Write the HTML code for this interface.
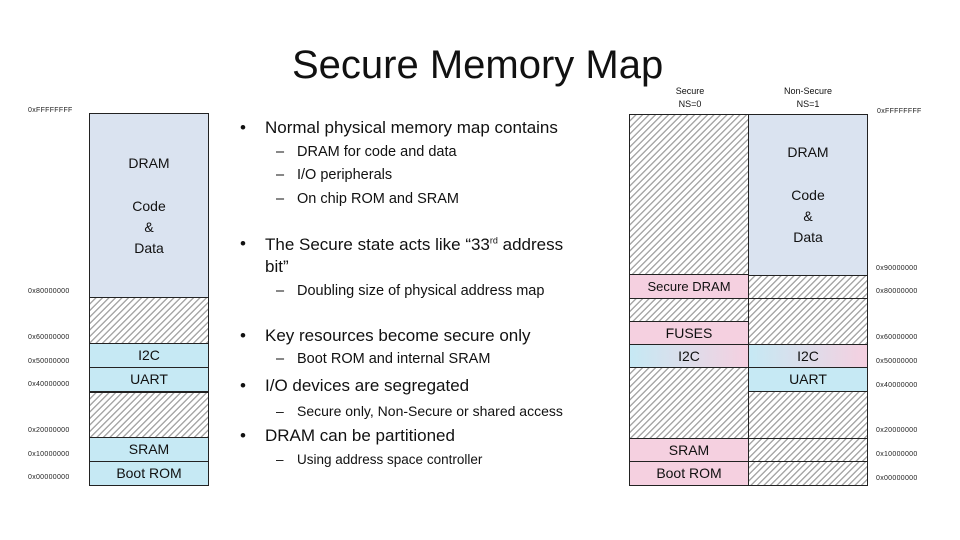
<!DOCTYPE html>
<html><head><meta charset="utf-8"><style>
body{margin:0;background:#fff;}
#c{position:relative;width:960px;height:540px;overflow:hidden;font-family:"Liberation Sans",sans-serif;color:#111;}
.a{position:absolute;}
.b{position:absolute;box-sizing:border-box;border:1px solid #222;display:flex;align-items:center;justify-content:center;text-align:center;font-size:14px;line-height:21px;}
.h{background:repeating-linear-gradient(135deg,#fff 0 3.2px,#a8a8a8 3.2px 4.6px);}
.d{background:#dae3f0;}
.bl{background:#c6e9f4;}
.pk{background:#f5d0e0;}
.lab{position:absolute;font-size:7px;color:#222;letter-spacing:0.3px;}
.t1{position:absolute;font-size:17px;white-space:nowrap;}
.t2{position:absolute;font-size:14.5px;white-space:nowrap;}
sup{line-height:0;}
</style></head><body><div id="c">
<div class="a" style="left:292px;top:43px;font-size:40px;white-space:nowrap;">Secure Memory Map</div>

<div class="b d" style="left:89px;top:113px;width:120px;height:185px;flex-direction:column;"><div>DRAM</div><div style="height:22px"></div><div>Code<br>&amp;<br>Data</div></div>
<div class="b h" style="left:89px;top:297px;width:120px;height:47px;"></div>
<div class="b bl" style="left:89px;top:343px;width:120px;height:25px;">I2C</div>
<div class="b bl" style="left:89px;top:367px;width:120px;height:25px;">UART</div>
<div class="b h" style="left:89px;top:391px;width:120px;height:47px;border-top:2px solid #222;"></div>
<div class="b bl" style="left:89px;top:437px;width:120px;height:25px;">SRAM</div>
<div class="b bl" style="left:89px;top:461px;width:120px;height:25px;">Boot ROM</div>

<div class="lab" style="left:28px;top:107px;">0xFFFFFFFF</div>
<div class="lab" style="left:28px;top:288px;">0x80000000</div>
<div class="lab" style="left:28px;top:334px;">0x60000000</div>
<div class="lab" style="left:28px;top:358px;">0x50000000</div>
<div class="lab" style="left:28px;top:381px;">0x40000000</div>
<div class="lab" style="left:28px;top:427px;">0x20000000</div>
<div class="lab" style="left:28px;top:451px;">0x10000000</div>
<div class="lab" style="left:28px;top:474px;">0x00000000</div>

<div class="t1" style="left:240px;top:118px;">•</div><div class="t1" style="left:265px;top:118px;">Normal physical memory map contains</div>
<div class="t2" style="left:276px;top:144px;">–</div><div class="t2" style="left:297px;top:144px;">DRAM for code and data</div>
<div class="t2" style="left:276px;top:167px;">–</div><div class="t2" style="left:297px;top:167px;">I/O peripherals</div>
<div class="t2" style="left:276px;top:191px;">–</div><div class="t2" style="left:297px;top:191px;">On chip ROM and SRAM</div>
<div class="t1" style="left:240px;top:234px;">•</div><div class="t1" style="left:265px;top:234px;line-height:22px;">The Secure state acts like “33<sup style="font-size:9px">rd</sup> address<br>bit”</div>
<div class="t2" style="left:276px;top:283px;">–</div><div class="t2" style="left:297px;top:283px;">Doubling size of physical address map</div>
<div class="t1" style="left:240px;top:326px;">•</div><div class="t1" style="left:265px;top:326px;">Key resources become secure only</div>
<div class="t2" style="left:276px;top:351px;">–</div><div class="t2" style="left:297px;top:351px;">Boot ROM and internal SRAM</div>
<div class="t1" style="left:240px;top:376px;">•</div><div class="t1" style="left:265px;top:376px;">I/O devices are segregated</div>
<div class="t2" style="left:276px;top:403px;font-size:14px;">–</div><div class="t2" style="left:297px;top:403px;font-size:14px;">Secure only, Non-Secure or shared access</div>
<div class="t1" style="left:240px;top:426px;">•</div><div class="t1" style="left:265px;top:426px;">DRAM can be partitioned</div>
<div class="t2" style="left:276px;top:452px;font-size:13.5px;">–</div><div class="t2" style="left:297px;top:452px;font-size:13.5px;">Using address space controller</div>

<div class="a" style="left:660px;top:85px;width:60px;text-align:center;font-size:9px;line-height:13px;">Secure<br>NS=0</div>
<div class="a" style="left:770px;top:85px;width:76px;text-align:center;font-size:9px;line-height:13px;">Non-Secure<br>NS=1</div>

<div class="b h" style="left:629px;top:114px;width:120px;height:161px;"></div>
<div class="b pk" style="left:629px;top:274px;width:120px;height:25px;font-size:13px;">Secure DRAM</div>
<div class="b h" style="left:629px;top:298px;width:120px;height:24px;"></div>
<div class="b pk" style="left:629px;top:321px;width:120px;height:24px;">FUSES</div>
<div class="b" style="left:629px;top:344px;width:120px;height:24px;background:linear-gradient(90deg,#c6e9f4,#f5d0e0);">I2C</div>
<div class="b h" style="left:629px;top:367px;width:120px;height:72px;"></div>
<div class="b pk" style="left:629px;top:438px;width:120px;height:24px;">SRAM</div>
<div class="b pk" style="left:629px;top:461px;width:120px;height:25px;">Boot ROM</div>

<div class="b d" style="left:748px;top:114px;width:120px;height:162px;flex-direction:column;"><div>DRAM</div><div style="height:22px"></div><div>Code<br>&amp;<br>Data</div></div>
<div class="b h" style="left:748px;top:275px;width:120px;height:24px;"></div>
<div class="b h" style="left:748px;top:298px;width:120px;height:47px;"></div>
<div class="b" style="left:748px;top:344px;width:120px;height:24px;background:linear-gradient(90deg,#c6e9f4,#f5d0e0);">I2C</div>
<div class="b bl" style="left:748px;top:367px;width:120px;height:25px;">UART</div>
<div class="b h" style="left:748px;top:391px;width:120px;height:48px;"></div>
<div class="b h" style="left:748px;top:438px;width:120px;height:24px;"></div>
<div class="b h" style="left:748px;top:461px;width:120px;height:25px;"></div>

<div class="lab" style="left:877px;top:108px;">0xFFFFFFFF</div>
<div class="lab" style="left:876px;top:265px;">0x90000000</div>
<div class="lab" style="left:876px;top:288px;">0x80000000</div>
<div class="lab" style="left:876px;top:334px;">0x60000000</div>
<div class="lab" style="left:876px;top:358px;">0x50000000</div>
<div class="lab" style="left:876px;top:382px;">0x40000000</div>
<div class="lab" style="left:876px;top:427px;">0x20000000</div>
<div class="lab" style="left:876px;top:451px;">0x10000000</div>
<div class="lab" style="left:876px;top:475px;">0x00000000</div>
</div></body></html>
